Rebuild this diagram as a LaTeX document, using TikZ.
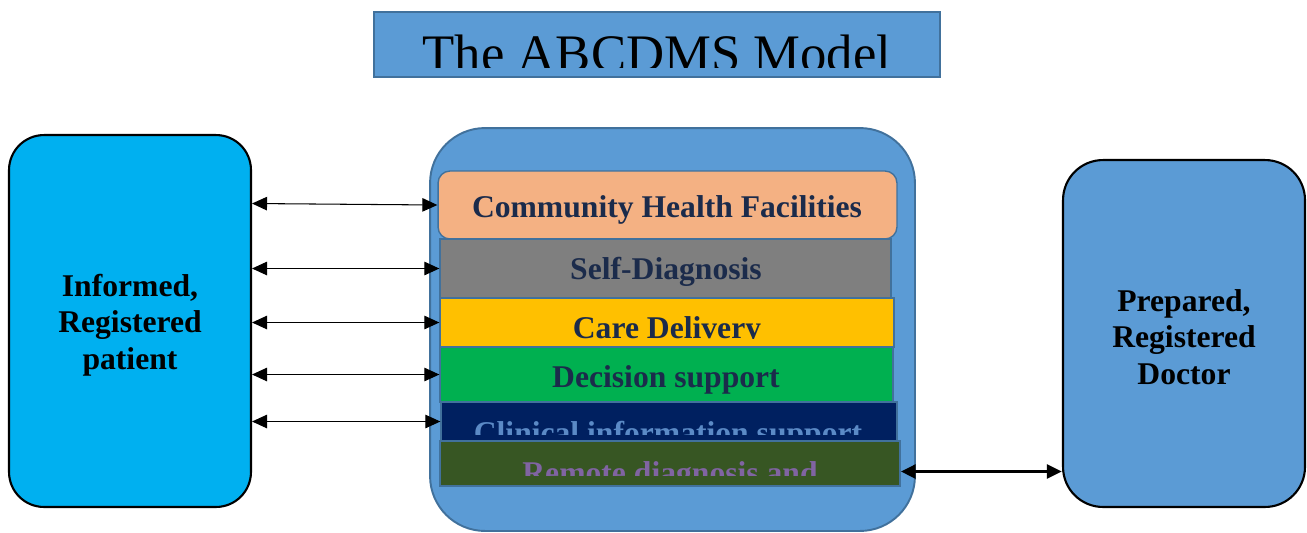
\documentclass[tikz,border=0pt]{standalone}
\usepackage{fontspec}
\setmainfont{Liberation Serif}
\usetikzlibrary{arrows.meta}

\definecolor{boxblue}{HTML}{5B9BD5}
\definecolor{edgeblue}{HTML}{41719C}
\definecolor{patientcyan}{HTML}{00B0F0}
\definecolor{labelnavy}{HTML}{1B2B4B}
\definecolor{chfpeach}{HTML}{F4B183}
\definecolor{selfgrey}{HTML}{7F7F7F}
\definecolor{careamber}{HTML}{FFC000}
\definecolor{decgreen}{HTML}{00B050}
\definecolor{clinnavy}{HTML}{002060}
\definecolor{clintext}{HTML}{5B8AC6}
\definecolor{remolive}{HTML}{375623}
\definecolor{remtext}{HTML}{8064A2}

\begin{document}
\begin{tikzpicture}[
    x=0.02cm, y=-0.02cm,
    layer/.style={draw=edgeblue, line width=0.8pt, inner sep=0pt},
    actor/.style={draw=black, line width=1.2pt, inner sep=0pt, fill=#1,
        minimum width=4.84cm},
    actorlbl/.style={align=center, font=\fontsize{18}{20.7}\selectfont\bfseries},
    lbl/.style={font=\fontsize{18}{20.7}\selectfont\bfseries, text=labelnavy, anchor=base},
    link/.style={{Triangle[length=0.3cm,width=0.27cm]}-{Triangle[length=0.3cm,width=0.27cm]}, line width=0.6pt},
    biglink/.style={link, line width=2.2pt}
    ]

    \useasboundingbox (0,0) rectangle (1307,532);

    % title
    \node[layer, fill=boxblue, line width=1.1pt, minimum width=11.32cm, minimum height=1.30cm] (title) at (657,44.5) {};
    \begin{scope}
        \clip (374,12) rectangle (940,67);
        \node[anchor=base, font=\fontsize{30}{34}\selectfont] (titletext) at (657,71) {The ABCDMS Model};
    \end{scope}

    % the two parties
    \node[actor=patientcyan, rounded corners=0.7cm, minimum height=7.44cm] (patient) at (130,321) {};
    \node[actorlbl] (patientlbl) at (130,325) {Informed,\\Registered\\patient};
    \node[actor=boxblue, rounded corners=0.8cm, minimum height=6.94cm] (doctor) at (1184,333.5) {};
    \node[actorlbl] (doctorlbl) at (1184,337) {Prepared,\\Registered\\Doctor};

    % the model and its layers
    \node[layer, fill=boxblue, line width=1.1pt, rounded corners=1.1cm, minimum width=9.70cm, minimum height=8.06cm] (hub) at (672.5,329.5) {};

    \node[layer, fill=chfpeach, rounded corners=0.24cm, minimum width=9.18cm, minimum height=1.36cm] (chf) at (667.5,205) {};
    \node[layer, fill=selfgrey, minimum width=9.02cm, minimum height=1.18cm] (selfdx) at (665.5,268.5) {};
    \node[layer, fill=careamber, minimum width=9.08cm, minimum height=0.98cm] (care) at (667,322.5) {};
    \node[layer, fill=decgreen, minimum width=9.06cm, minimum height=1.10cm] (decision) at (666.5,374.5) {};
    \node[layer, fill=clinnavy, minimum width=9.12cm, minimum height=0.78cm] (clinical) at (669,421.5) {};
    \node[layer, fill=remolive, minimum width=9.20cm, minimum height=0.90cm] (remote) at (670,463.5) {};

    \node[lbl] (chftext) at (667,217) {Community Health Facilities};
    \node[lbl] (selftext) at (666,279) {Self-Diagnosis};
    \node[lbl] (dectext) at (666,387) {Decision support};

    % labels that run past their layer
    \begin{scope}
        \clip (440,298) rectangle (894,338);
        \node[lbl] (caretext) at (667,338) {Care Delivery};
    \end{scope}
    \begin{scope}
        \clip (441,402) rectangle (897,434);
        \node[lbl, text=clintext] (clintxt) at (668,443) {Clinical information support};
    \end{scope}
    \begin{scope}
        \clip (440,441) rectangle (900,475);
        \node[lbl, text=remtext] (remtxt) at (670,483) {Remote diagnosis and};
    \end{scope}

    % links
    \draw[link] ([yshift=0.03cm]patient.east |- chf.west) -- (chf.west);
    \draw[link] (patient.east |- selfdx.west) -- (selfdx.west);
    \draw[link] (patient.east |- care.west) -- (care.west);
    \draw[link] (patient.east |- decision.west) -- (decision.west);
    \draw[link] (patient.east |- clinical.west) -- (clinical.west);
    \draw[biglink] ([yshift=-0.16cm]remote.east) -- ([yshift=-0.16cm]doctor.west |- remote.east);

\end{tikzpicture}
\end{document}
